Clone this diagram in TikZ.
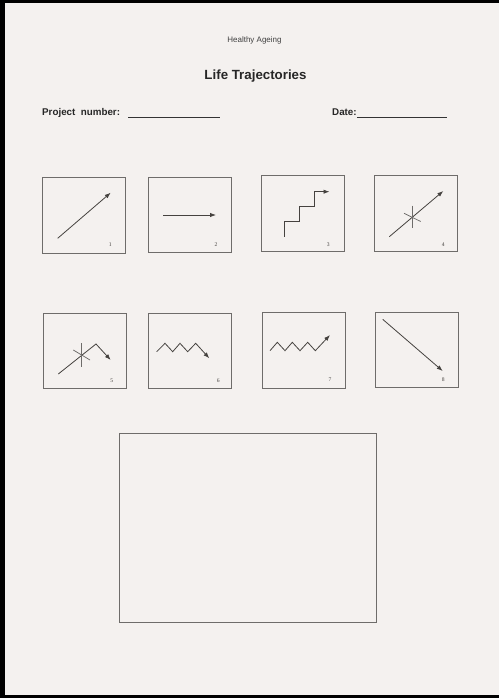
\documentclass[tikz,border=0pt]{standalone}
\usepackage{fontspec}
\setmainfont{Liberation Sans}
\newfontfamily\numfont{Liberation Serif}
\usepackage{xcolor}
\usetikzlibrary{arrows.meta,positioning}
\definecolor{paper}{HTML}{F4F1EF}
\definecolor{inkgrey}{HTML}{6E6C6A}
\definecolor{inkdark}{HTML}{45423F}

\begin{document}
\begin{tikzpicture}[
  x=1pt, y=-1pt,
  >={Latex[length=6pt,width=4.4pt]},
  frame/.style={draw=inkgrey, line width=0.9pt, minimum width=83pt,
    minimum height=75.5pt, inner sep=0pt},
  bigframe/.style={draw=inkgrey, line width=0.9pt, minimum width=257pt,
    minimum height=189pt, inner sep=0pt},
  path/.style={draw=inkdark, line width=0.8pt, line join=miter},
  trend/.style={->, path},
  cross/.style={draw=inkgrey, line width=0.75pt},
  numlabel/.style={font=\numfont\fontsize{5.6}{6}\selectfont, text=inkdark,
    inner sep=0pt},
  heading/.style={font=\fontsize{13.3}{15}\selectfont\bfseries, text=black!85},
  field/.style={font=\fontsize{9.8}{12}\selectfont\bfseries, text=black!85,
    inner sep=0pt, anchor=west},
  blank/.style={draw=black!80, line width=0.6pt}
]
  \useasboundingbox (0,0) rectangle (499,698);
  \fill[paper] (0,0) rectangle (499,698);
  \fill[black] (0,0) rectangle (499,3.5);
  \fill[black] (0,0) rectangle (4.5,698);
  \fill[black] (0,695) rectangle (499,698);

  % header
  \node[font=\fontsize{8}{9}\selectfont, text=black!75] (series) at (254.5,40) {Healthy Ageing};
  \node[heading] (title) at (255.5,76) {Life Trajectories};
  \node[field] (project) at (42,112.5) {Project\ \ number:};
  \coordinate (projstart) at (128,117.5);
  \coordinate (projend) at (220,117.5);
  \draw[blank] (projstart) -- (projend);
  \node[field] (date) at (332,112.5) {Date:};
  \coordinate (datestart) at (date.east |- projstart);
  \coordinate (dateend) at (447,117.5);
  \draw[blank] (datestart) -- (dateend);

  % first row
  \node[frame] (box1) at (84.4,215.4) {};
  \node[frame] (box2) at (190,214.8) {};
  \node[frame] (box3) at (303,213.6) {};
  \node[frame] (box4) at (415.8,213.4) {};
  \node[numlabel] (num1) at (110.3,245) {1};
  \node[numlabel] (num2) at (216,245) {2};
  \node[numlabel] (num3) at (328.3,244.3) {3};
  \node[numlabel] (num4) at (443.3,245) {4};

  \draw[trend] (57.7,238.3) -- (110.7,192.7);
  \draw[trend] (163.3,215) -- (216,215);
  \draw[trend] (284.3,236.7) |- (299.3,221.7) |- (314.3,206.7) |- (329.5,191.7);
  \draw[trend] (389.3,236.7) -- (443.3,191);
  \draw[cross] (412.3,205.7) -- (412.3,228.3);
  \draw[cross] (404,213.3) -- (420.7,221.5);

  % second row
  \node[frame] (box5) at (84.7,350.8) {};
  \node[frame] (box6) at (190.3,350.8) {};
  \node[frame] (box7) at (303.6,350.3) {};
  \node[frame] (box8) at (416.6,349.7) {};
  \node[numlabel] (num5) at (111.7,380.7) {5};
  \node[numlabel] (num6) at (218.3,380.7) {6};
  \node[numlabel] (num7) at (330,380) {7};
  \node[numlabel] (num8) at (443.3,380) {8};

  \draw[trend] (58.3,374) -- (96,344) -- (110.7,360);
  \draw[cross] (81,343.3) -- (81,366.7);
  \draw[cross] (73.3,350) -- (90,360);
  \draw[trend] (156.7,351.7) -- (165,343.3) -- (172.7,351.7) -- (180,343.3)
    -- (187.7,351.7) -- (195.7,343.3) -- (209.3,358.3);
  \draw[trend] (270,350.7) -- (277.3,342.3) -- (285,350.7) -- (292.3,342.3)
    -- (300,350.7) -- (307.7,342.3) -- (315.3,350.7) -- (330,335);
  \draw[trend] (382.7,319.3) -- (442.7,371);

  % drawing area
  \node[bigframe] (canvas) at (247.5,527.8) {};
\end{tikzpicture}
\end{document}
